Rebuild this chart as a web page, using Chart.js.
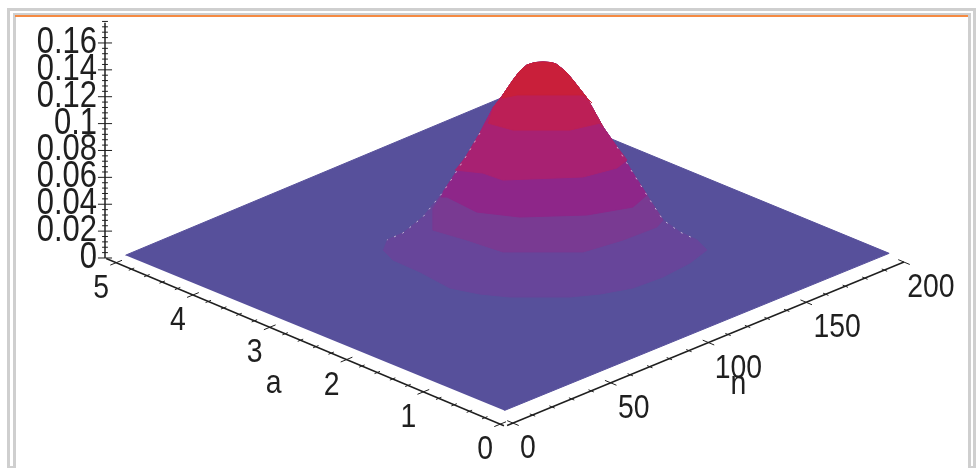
<!DOCTYPE html>
<html>
<head>
<meta charset="utf-8">
<title>Surface over n and a</title>
<script src="https://cdn.jsdelivr.net/npm/chart.js@4"></script>
<style>
    html, body { margin: 0; padding: 0; background: #fff; overflow: hidden; }
    .frame { position: absolute; box-sizing: border-box; border: 3px solid #cfcfcf; border-bottom: none; }
    #outer { left: 7px; top: 8px; width: 969px; height: 460px; }
    #inner { left: 13px; top: 13px; width: 958px; height: 455px; }
    #orange { position: absolute; left: 15px; top: 15px; width: 953px; height: 2px; background: #f58a42; }
    .foot { position: absolute; top: 466px; width: 3px; height: 2px; background: #cfcfcf; }
    #wrap { position: absolute; left: 0; top: 0; width: 977px; height: 468px; }
    canvas { filter: blur(0.5px); }
</style>
</head>
<body>
<div id="outer" class="frame"></div>
<div id="inner" class="frame"></div>
<div id="orange"></div>
<div class="foot" style="left:10px"></div>
<div class="foot" style="left:971px"></div>
<div id="wrap"><canvas id="surface" width="977" height="468"></canvas></div>
<script>
// tick labels on the three axes
const zTicks = [0, 0.02, 0.04, 0.06, 0.08, 0.1, 0.12, 0.14, 0.16];
const aTicks = [0, 1, 2, 3, 4, 5];
const nTicks = [0, 50, 100, 150, 200];

// corners of the flat part of the surface, read against the n and a axes
const planeN = [8, 204, 202, 5.5];
const planeA = [0.25, 0.23, 5.16, 5.12];

// outline of the hump: across = position along the n direction, height = value on the z axis
const leftAcross = [17.9, 13.8, 9.7, 6.1, 2.6, -2.6, -7.7, -14.3, -21.0, -28.1, -33.2, -43.5, -53.7, -61.9, -63.9];
const leftHeight = [0.1458, 0.1454, 0.1436, 0.1391, 0.1324, 0.1213, 0.1116, 0.0930, 0.0766, 0.0603, 0.0491, 0.0305, 0.0186, 0.0134, 0.0060];
const rightAcross = [17.9, 22.0, 24.6, 26.6, 29.7, 33.2, 40.4, 48.6, 55.8, 63.9, 72.6, 79.3, 88.0, 96.7, 101.8];
const rightHeight = [0.1458, 0.1454, 0.1443, 0.1421, 0.1384, 0.1324, 0.1190, 0.0975, 0.0826, 0.0632, 0.0432, 0.0283, 0.0193, 0.0134, 0.0060];

// lower edge of each colour band, left to right
const band6Across = [-63.9, -58.8, -45.0, -29.7, -14.3, 1.0, 31.7, 47.1, 63.9, 79.3, 93.1, 101.8];
const band6Height = [0.0060, -0.0015, -0.0104, -0.0223, -0.0268, -0.0290, -0.0290, -0.0268, -0.0223, -0.0141, -0.0037, 0.0060];
const band5Across = [-38.4, -38.4, -21.0, -2.6, 38.4, 58.8, 76.2, 79.3];
const band5Height = [0.0372, 0.0208, 0.0134, 0.0045, 0.0045, 0.0134, 0.0231, 0.0283];
const band4Across = [-34.3, -31.2, -15.9, 6.1, 40.4, 63.9, 71.1];
const band4Height = [0.0454, 0.0454, 0.0342, 0.0305, 0.0320, 0.0379, 0.0469];
const band3Across = [-27.1, -12.8, -2.6, 38.4, 55.8, 60.9];
const band3Height = [0.0655, 0.0632, 0.0580, 0.0603, 0.0670, 0.0729];
const band2Across = [-10.2, 2.6, 31.7, 47.1, 48.6];
const band2Height = [0.1004, 0.0952, 0.0952, 0.1004, 0.0975];
const band1Across = [-3.1, 4.6, 38.4, 43.0];
const band1Height = [0.1190, 0.1213, 0.1213, 0.1153];

const planeColour = '#57509b';
const bandColours = ['#67459a', '#793a92', '#8e2689', '#a82172', '#bc1f56', '#c91f3a'];
const axisColour = '#1f1f1f';

// the view: x runs along n, y is the z axis. the a and n axes are skewed into it
const xMin = -206.1, xMax = 239.9;
const yMin = -0.15625, yMax = 0.19196;

function project(n, a, z) {
    return {
        x: n - 39.28 * a,
        y: z - 0.12426 + 0.000599 * n + 0.02403 * a
    };
}
// the two floor axes sit slightly apart from each other, as in the picture
const onAAxis = (a, side) => project(-4 + side, a, 0.003);
const onNAxis = (n, side) => project(n, -0.065 + side, 0.003);

function zip(xs, ys) {
    return xs.map((x, i) => ({ x: x, y: ys[i] }));
}

function bandShape(edge) {
    const first = edge[0], last = edge[edge.length - 1];
    const left = zip(leftAcross, leftHeight).filter(p => p.y > first.y).reverse();
    const right = zip(rightAcross, rightHeight).filter(p => p.y > last.y);
    return left.concat(right, edge.slice().reverse());
}

function filled(points, colour) {
    return {
        data: points, showLine: true, fill: 'shape', backgroundColor: colour,
        borderColor: colour, borderWidth: 1, pointRadius: 0, tension: 0
    };
}

function stroked(points, width, colour) {
    return {
        data: points, showLine: true, fill: false, borderColor: colour, borderWidth: width,
        pointRadius: 0, tension: 0, clip: false, spanGaps: false
    };
}

// tick marks as one broken line
function tickMarks(values, majorEvery, pointAt, major, minor) {
    const out = [];
    values.forEach((v, i) => {
        const size = i % majorEvery === 0 ? major : minor;
        out.push(pointAt(v, -size), pointAt(v, size), { x: NaN, y: NaN });
    });
    return out;
}

function steps(from, to, count) {
    const out = [];
    for (let i = 0; i <= count; i++) out.push(from + (to - from) * i / count);
    return out;
}

const bandEdges = [
    zip(band6Across, band6Height), zip(band5Across, band5Height), zip(band4Across, band4Height),
    zip(band3Across, band3Height), zip(band2Across, band2Height), zip(band1Across, band1Height)
];

const datasets = [];
datasets.push(filled(planeN.map((n, i) => project(n, planeA[i], 0)), planeColour));
bandEdges.forEach((edge, i) => datasets.push(filled(bandShape(edge), bandColours[i])));

// faint white seam where the hump stands in front of the flat part
const seam = Object.assign(stroked(zip(leftAcross, leftHeight).slice(7, 14), 1, 'rgba(235,235,235,.7)'), { borderDash: [2, 7] });
const seamRight = Object.assign(stroked(zip(rightAcross, rightHeight).slice(8, 14), 1, 'rgba(235,235,235,.7)'), { borderDash: [2, 7] });
datasets.push(seam, seamRight);

// z axis
datasets.push(stroked([{ x: xMin, y: 0 }, { x: xMin, y: 0.175 }], 1.5, axisColour));
datasets.push(stroked(tickMarks(steps(0, 0.176, 44), 5, (z, s) => ({ x: xMin + s, y: z }), 3.6, 1.5), 1, axisColour));

// a axis
datasets.push(stroked([onAAxis(-0.05, 0), onAAxis(5.13, 0)], 1.5, axisColour));
datasets.push(stroked(tickMarks(steps(0, 5, 25), 5, (a, s) => onAAxis(a, s * 2), 1.5, 0.7), 1, axisColour));

// n axis
datasets.push(stroked([onNAxis(-3, 0), onNAxis(200, 0)], 1.5, axisColour));
datasets.push(stroked(tickMarks(steps(0, 200, 20), 5, (n, s) => onNAxis(n, s * 0.05), 1.5, 0.7), 1, axisColour));

// first dataset ends up on top in Chart.js, we listed them bottom first
datasets.reverse();

// all labels go through here, the picture's lettering is narrower than the installed fonts
const axisLabels = {
    id: 'axisLabels',
    afterDraw(chart) {
        const { ctx, scales } = chart;
        const squeeze = 0.86;
        const put = (text, px, py, align) => {
            ctx.save();
            ctx.translate(px, py);
            ctx.scale(squeeze, 1);
            ctx.textAlign = align;
            ctx.fillText(text, 0, 0);
            ctx.restore();
        };
        const putAt = (text, p, dx, dy) => {
            put(text, scales.x.getPixelForValue(p.x) + dx, scales.y.getPixelForValue(p.y) + dy, 'center');
        };
        ctx.save();
        ctx.fillStyle = axisColour;
        ctx.textBaseline = 'middle';
        ctx.font = '36px "Liberation Sans"';
        zTicks.forEach(z => put(String(z), scales.x.left - 8, scales.y.getPixelForValue(z), 'right'));
        ctx.font = '33px "Liberation Sans"';
        aTicks.forEach(a => putAt(String(a), onAAxis(a, 0), -15, 26));
        const nOffsets = [15, 23, 30, 31, 27];
        nTicks.forEach((n, i) => putAt(String(n), onNAxis(n, 0), nOffsets[i], 26));
        putAt('a', onAAxis(3, 0), 4, 57);
        putAt('n', onNAxis(100, 0), 30, 42);
        ctx.restore();
    }
};

new Chart('surface', {
    type: 'scatter',
    data: { datasets: datasets },
    plugins: [axisLabels],
    options: {
        responsive: false,
        animation: false,
        layout: { padding: 0 },
        plugins: { legend: { display: false }, tooltip: { enabled: false } },
        scales: {
            x: { type: 'linear', display: false, min: xMin, max: xMax },
            y: {
                type: 'linear',
                min: yMin,
                max: yMax,
                afterFit(scale) {
                    scale.width = 105;
                    scale.paddingTop = 0;
                    scale.paddingBottom = 0;
                },
                border: { display: false },
                grid: { display: false },
                ticks: { display: false }
            }
        }
    }
});
</script>
</body>
</html>
